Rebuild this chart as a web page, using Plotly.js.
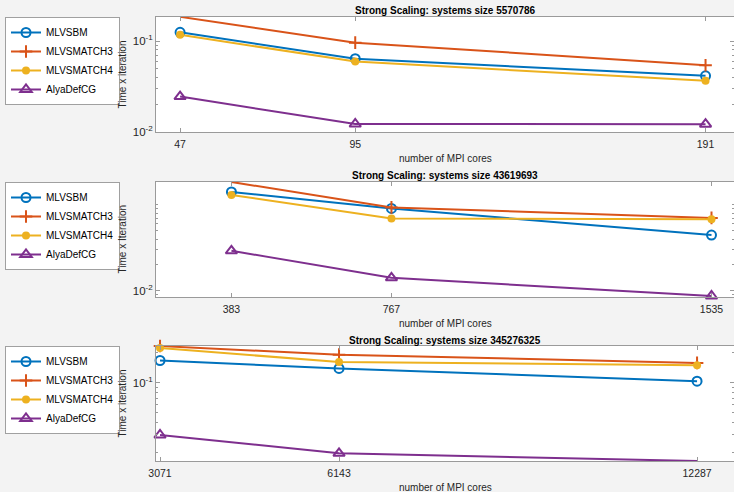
<!DOCTYPE html>
<html>
<head>
<meta charset="utf-8">
<script src="https://cdn.plot.ly/plotly-3.0.1.min.js"></script>
<style>html,body{margin:0;padding:0;background:#f3f3f3;}#chart{width:734px;height:492px;}</style>
</head>
<body>
<div id="chart"></div>
<script>
// ---- data ----
const seriesNames = ['MLVSBM', 'MLVSMATCH3', 'MLVSMATCH4', 'AlyaDefCG'];
const titles = ['Strong Scaling: systems size 5570786', 'Strong Scaling: systems size 43619693', 'Strong Scaling: systems size 345276325'];
const yLabels = ['Time x iteration', 'Time x Iteration', 'Time x iteration'];
const xLabel = 'number of MPI cores';

const cores1 = [47, 95, 191];
const cores2 = [383, 767, 1535];
const cores3 = [3071, 6143, 12287];

const mlvsbm1 = [0.1245, 0.064, 0.0414];
const match3_1 = [0.1845, 0.096, 0.0542];
const match4_1 = [0.117, 0.0594, 0.0365];
const alya1 = [0.0245, 0.01224, 0.0122];

const mlvsbm2 = [0.1416, 0.091, 0.0445];
const match3_2 = [0.185, 0.0935, 0.0706];
const match4_2 = [0.1306, 0.0695, 0.0682];
const alya2 = [0.0292, 0.01416, 0.00868];

const mlvsbm3 = [0.167, 0.139, 0.1035];
const match3_3 = [0.233, 0.191, 0.158];
const match4_3 = [0.223, 0.161, 0.150];
const alya3 = [0.0299, 0.0196, 0.0164];

const yTickVals = [[0.01, 0.1], [0.01], [0.1]];
const yTickText = [['10<sup>-2</sup>', '10<sup>-1</sup>'], ['10<sup>-2</sup>'], ['10<sup>-1</sup>']];
const yMinor = [
  [0.02, 0.03, 0.04, 0.05, 0.06, 0.07, 0.08, 0.09],
  [0.009, 0.02, 0.03, 0.04, 0.05, 0.06, 0.07, 0.08, 0.09, 0.1],
  [0.02, 0.03, 0.04, 0.05, 0.06, 0.07, 0.08, 0.09, 0.2]
];

// ---- styling ----
const colors = ['#0072BD', '#D95319', '#EDB120', '#7E2F8E'];
const markers = [
  {symbol: 'circle-open', size: 9, line: {width: 2}},
  {symbol: 'cross-thin', size: 9, line: {width: 2}},
  {symbol: 'circle', size: 8},
  {symbol: 'triangle-up-open', size: 10, line: {width: 2}}
];

const panels = [
  {x: cores1, ys: [mlvsbm1, match3_1, match4_1, alya1], xr: [40.4, 198.8], yr: [-2, -0.736], top: 17, bot: 132},
  {x: cores2, ys: [mlvsbm2, match3_2, match4_2, alya2], xr: [202, 1589], yr: [-2.073, -0.733], top: 182, bot: 297},
  {x: cores3, ys: [mlvsbm3, match3_3, match4_3, alya3], xr: [3002, 12921], yr: [-1.785, -0.632], top: 346, bot: 461}
];

const W = 734, H = 492, LEFT = 156;
const axisColor = '#9a9a9a';
const textColor = '#262626';
const font = 'Liberation Sans, Arial, sans-serif';

const data = [];
const layout = {
  width: W, height: H,
  margin: {l: 0, r: 0, t: 0, b: 0},
  paper_bgcolor: '#f3f3f3',
  plot_bgcolor: '#ffffff',
  font: {family: font, size: 10, color: textColor},
  showlegend: true,
  annotations: []
};

panels.forEach((p, i) => {
  const sfx = i === 0 ? '' : String(i + 1);
  const legendName = 'legend' + sfx;
  p.ys.forEach((y, k) => {
    data.push({
      type: 'scatter', mode: 'lines+markers',
      x: p.x, y: y, name: seriesNames[k],
      xaxis: 'x' + sfx, yaxis: 'y' + sfx,
      legend: legendName,
      line: {color: colors[k], width: 2},
      marker: Object.assign({color: colors[k]}, markers[k], markers[k].line ? {line: {color: colors[k], width: 2}} : {}),
      cliponaxis: false
    });
  });
  const y0 = 1 - p.bot / H, y1 = 1 - p.top / H;
  layout['xaxis' + sfx] = {
    domain: [LEFT / W, 1], anchor: 'y' + sfx,
    range: p.xr, tickvals: p.x, ticktext: p.x.map(String),
    showline: true, linecolor: axisColor, linewidth: 1, mirror: 'ticks',
    ticks: 'inside', ticklen: 4, tickcolor: axisColor,
    showgrid: false, zeroline: false,
    tickfont: {size: 10.5, color: textColor}, ticklabelstandoff: 2
  };
  layout['yaxis' + sfx] = {
    domain: [y0, y1], anchor: 'x' + sfx, type: 'log',
    range: p.yr, tickmode: 'array', tickvals: yTickVals[i], ticktext: yTickText[i],
    showline: true, linecolor: axisColor, linewidth: 1, mirror: 'ticks',
    ticks: 'inside', ticklen: 4, tickcolor: axisColor,
    minor: {tickmode: 'array', tickvals: yMinor[i], ticks: 'inside', ticklen: 2, tickcolor: axisColor},
    showgrid: false, zeroline: false,
    tickfont: {size: 11.5, color: textColor}
  };
  layout[legendName] = {
    x: 5 / W, y: 1 - p.top / H, xref: 'paper', yref: 'paper',
    xanchor: 'left', yanchor: 'top',
    bgcolor: '#ffffff', bordercolor: '#a0a0a0', borderwidth: 1,
    font: {size: 10, color: '#000000'}, tracegroupgap: 0, itemwidth: 30
  };
  const cx = (LEFT + W) / 2 / W;
  layout.annotations.push({
    text: '<b>' + titles[i] + '</b>', xref: 'paper', yref: 'paper',
    x: cx, y: 1 - (p.top - 6) / H, xanchor: 'center', yanchor: 'middle',
    showarrow: false, font: {size: 10, color: '#000000'}
  });
  layout.annotations.push({
    text: xLabel, xref: 'paper', yref: 'paper',
    x: cx, y: 1 - (p.bot + 26) / H, xanchor: 'center', yanchor: 'middle',
    showarrow: false, font: {size: 10, color: textColor}
  });
  layout.annotations.push({
    text: yLabels[i], xref: 'paper', yref: 'paper', textangle: -90,
    x: 122 / W, y: 1 - (p.top + p.bot) / 2 / H, xanchor: 'center', yanchor: 'middle',
    showarrow: false, font: {size: 10, color: textColor}
  });
});

Plotly.newPlot('chart', data, layout, {staticPlot: true});
</script>
</body>
</html>
